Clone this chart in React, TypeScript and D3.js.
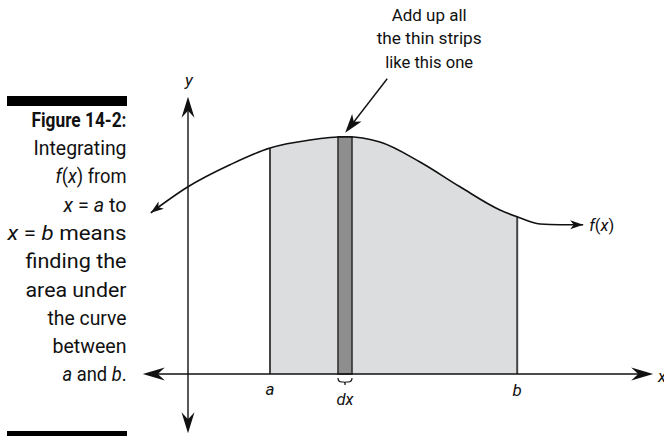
import React from 'react';
import * as d3 from 'd3';

// curve f(x), in plot units (origin where the axes cross)
const curveX = [-0.93, 0, 1.05, 2.05, 3.05, 3.93, 4.8, 5.8, 6.8, 7.8, 8.23, 8.8, 9.3, 9.88];
const curveY = [4.03, 4.68, 5.23, 5.65, 5.85, 5.93, 5.8, 5.3, 4.68, 4.1, 3.93, 3.75, 3.73, 3.73];

const aValue = 2.05;
const bValue = 8.23;
const stripX = [3.75, 4.1];
const stripTop = 5.93;

const xAxisRange = [-1.13, 11.63];
const yAxisRange = [-1.48, 6.93];

const captionLines = [
  { parts: [['Figure 14-2:', 'b']], width: 95 },
  { parts: [['Integrating', '']], width: 93 },
  { parts: [['f', 'i'], ['(', ''], ['x', 'i'], [') from', '']], width: 71 },
  { parts: [['x', 'i'], [' = ', ''], ['a', 'i'], [' to', '']], width: 63 },
  { parts: [['x', 'i'], [' = ', ''], ['b', 'i'], [' means', '']], width: 119 },
  { parts: [['finding the', '']], width: 101 },
  { parts: [['area under', '']], width: 101 },
  { parts: [['the curve', '']], width: 79 },
  { parts: [['between', '']], width: 74 },
  { parts: [['a', 'i'], [' and ', ''], ['b', 'i'], ['.', '']], width: 64 },
];

const noteLines = [
  { text: 'Add up all', width: 75, y: 8.83 },
  { text: 'the thin strips', width: 105, y: 8.25 },
  { text: 'like this one', width: 88, y: 7.65 },
];

const W = 664;
const H = 436;
const FONT = 'Roboto, "Liberation Sans", sans-serif';

const x = d3.scaleLinear().domain([0, 1]).range([188, 228]);
const y = d3.scaleLinear().domain([0, 1]).range([374, 334]);

// arrowhead pointing along +x from the tip at 0,0
const head = (len: number, wid: number, notch: number) =>
  `M0,0L${-len},${-wid / 2}L${-len + notch},0L${-len},${wid / 2}Z`;

const Arrow = ({ tx, ty, angle, len, wid, notch }: any) => (
  <path
    d={head(len, wid, notch)}
    transform={`translate(${tx},${ty}) rotate(${angle})`}
    fill="#111"
  />
);

const yAt = (v: number) => curveY[curveX.indexOf(v)];

export default function App() {
  const pts = curveX.map((v, i) => [v, curveY[i]] as [number, number]);
  const line = d3.line().x(d => x(d[0])).y(d => y(d[1])).curve(d3.curveMonotoneX);
  const area = d3
    .area()
    .x(d => x(d[0]))
    .y0(y(0))
    .y1(d => y(d[1]))
    .curve(d3.curveMonotoneX);

  // pointer arrow
  const p0 = [x(4.98), y(7.38)];
  const p1 = [x(3.93), y(6.03)];
  const pAng = (Math.atan2(p1[1] - p0[1], p1[0] - p0[0]) * 180) / Math.PI;

  const sx0 = x(stripX[0]);
  const sx1 = x(stripX[1]);
  const braceY = y(0) + 4;

  return (
    <svg
      width={W}
      height={H}
      style={{ position: 'absolute', left: 0, top: 0, background: '#fff' }}
      fontFamily={FONT}
    >
      <defs>
        <clipPath id="ab">
          <rect x={x(aValue)} y={0} width={x(bValue) - x(aValue)} height={H} />
        </clipPath>
        <clipPath id="strip">
          <rect x={sx0} y={0} width={sx1 - sx0} height={H} />
        </clipPath>
        <marker
          id="cap"
          viewBox="-14 -6 16 12"
          refX={0}
          refY={0}
          markerWidth={16}
          markerHeight={12}
          markerUnits="userSpaceOnUse"
          orient="auto-start-reverse"
        >
          <path d={head(13, 9, 3.5)} fill="#111" />
        </marker>
      </defs>

      {/* caption */}
      <rect x={7} y={96} width={120} height={10} fill="#000" />
      <rect x={7} y={431} width={120} height={10} fill="#000" />
      {captionLines.map((l, i) => (
        <text
          key={i}
          x={126.5}
          y={126.7 + i * 28.3}
          fontSize={20}
          textAnchor="end"
          textLength={l.width}
          lengthAdjust="spacingAndGlyphs"
          fill="#111"
        >
          {l.parts.map(([t, s], j) => (
            <tspan
              key={j}
              fontStyle={s === 'i' ? 'italic' : 'normal'}
              fontWeight={s === 'b' ? 'bold' : 'normal'}
            >
              {t}
            </tspan>
          ))}
        </text>
      ))}

      {/* shaded area between a and b */}
      <path d={area(pts) || ''} fill="#dcdddf" clipPath="url(#ab)" />
      <path d={area(pts) || ''} fill="#8e8e8e" clipPath="url(#strip)" />

      {/* thin strip */}
      <rect
        x={sx0}
        y={y(stripTop)}
        width={sx1 - sx0}
        height={y(0) - y(stripTop)}
        fill="none"
        stroke="#333"
        strokeWidth={1.6}
      />

      {/* a and b verticals */}
      {[aValue, bValue].map(v => (
        <line
          key={v}
          x1={x(v)}
          x2={x(v)}
          y1={y(0)}
          y2={y(yAt(v))}
          stroke="#444"
          strokeWidth={2}
        />
      ))}

      {/* axes */}
      <line x1={x(xAxisRange[0]) + 10} x2={x(xAxisRange[1]) - 10} y1={y(0)} y2={y(0)} stroke="#111" strokeWidth={1.4} />
      <line x1={x(0)} x2={x(0)} y1={y(yAxisRange[0]) - 10} y2={y(yAxisRange[1]) + 10} stroke="#111" strokeWidth={1.4} />
      <Arrow tx={x(xAxisRange[0])} ty={y(0)} angle={180} len={22} wid={13} notch={7} />
      <Arrow tx={x(xAxisRange[1])} ty={y(0)} angle={0} len={22} wid={13} notch={7} />
      <Arrow tx={x(0)} ty={y(yAxisRange[1])} angle={-90} len={21} wid={13} notch={7} />
      <Arrow tx={x(0)} ty={y(yAxisRange[0])} angle={90} len={21} wid={13} notch={7} />

      {/* curve */}
      <path
        d={line(pts) || ''}
        fill="none"
        stroke="#111"
        strokeWidth={1.6}
        markerStart="url(#cap)"
        markerEnd="url(#cap)"
      />

      {/* brace under dx */}
      <path
        d={`M${sx0},${braceY} q0,4 4,4 h${(sx1 - sx0) / 2 - 5} q1,0 1,3 q0,-3 1,-3 h${(sx1 - sx0) / 2 - 5} q4,0 4,-4`}
        fill="none"
        stroke="#111"
        strokeWidth={1.2}
      />

      {/* pointer */}
      <line x1={p0[0]} y1={p0[1]} x2={p1[0] + 8} y2={p1[1] - 10} stroke="#111" strokeWidth={1.4} />
      <Arrow tx={p1[0]} ty={p1[1]} angle={pAng} len={19} wid={12} notch={5} />
      {noteLines.map(l => (
        <text
          key={l.text}
          x={x(6.03)}
          y={y(l.y)}
          fontSize={17}
          textAnchor="middle"
          textLength={l.width}
          lengthAdjust="spacingAndGlyphs"
          fill="#111"
        >
          {l.text}
        </text>
      ))}

      {/* axis and point labels */}
      <text x={x(0) + 1} y={86} fontSize={17} fontStyle="italic" textAnchor="middle" fill="#111">y</text>
      <text x={x(11.75)} y={y(0) + 8} fontSize={17} fontStyle="italic" fill="#111">x</text>
      <text x={x(aValue)} y={y(0) + 21} fontSize={17} fontStyle="italic" textAnchor="middle" fill="#111">a</text>
      <text x={x(bValue)} y={y(0) + 22} fontSize={17} fontStyle="italic" textAnchor="middle" fill="#111">b</text>
      <text
        x={(sx0 + sx1) / 2}
        y={y(0) + 31}
        fontSize={17}
        fontStyle="italic"
        textAnchor="middle"
        textLength={17}
        lengthAdjust="spacingAndGlyphs"
        fill="#111"
      >
        dx
      </text>
      <text
        x={x(10.03)}
        y={y(3.73) + 6}
        fontSize={16}
        textLength={25}
        lengthAdjust="spacingAndGlyphs"
        fill="#111"
      >
        <tspan fontStyle="italic">f</tspan>(<tspan fontStyle="italic">x</tspan>)
      </text>
    </svg>
  );
}
